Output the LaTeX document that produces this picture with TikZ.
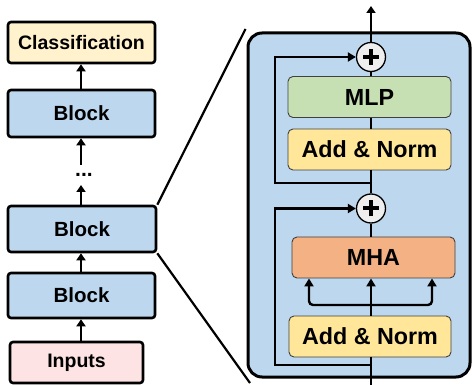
\documentclass[tikz,border=0pt]{standalone}
\usepackage{fontspec}
\setmainfont{Liberation Sans}
\usetikzlibrary{arrows.meta}
\definecolor{bblue}{HTML}{BDD7EE}
\definecolor{cyell}{HTML}{FFF2CC}
\definecolor{ipink}{HTML}{FDE3E3}
\definecolor{mgreen}{HTML}{C6E0B4}
\definecolor{ayell}{HTML}{FFE699}
\definecolor{morange}{HTML}{F4B183}
\definecolor{cgray}{HTML}{EEEEEE}
\tikzset{
  outerbox/.style={draw=black, line width=2.6pt, rounded corners=3pt, inner sep=0pt,
    font=\fontsize{19.5}{22}\selectfont\bfseries},
  blockfont/.style={font=\fontsize{20.5}{23}\selectfont\bfseries},
  innerbox/.style={draw=black!75, line width=0.9pt, rounded corners=5pt, inner sep=0pt,
    minimum width=163pt, minimum height=41pt, font=\fontsize{23.3}{26}\selectfont\bfseries},
  plusnode/.style={circle, draw=black, line width=1.3pt, fill=cgray, minimum size=29pt, inner sep=0pt},
  arr/.style={line width=2.6pt, -{Triangle[length=7pt,width=9pt]}},
  iline/.style={line width=2.4pt},
  iarr/.style={line width=2.4pt, -{Triangle[length=8pt,width=9pt]}},
}
\begin{document}
\begin{tikzpicture}[x=1pt,y=-1pt]
\useasboundingbox (0,0) rectangle (472,385);
% left column
\node[outerbox, fill=cyell, minimum width=147pt, minimum height=41pt] (cls) at (81.5,42.5) {Classification};
\node[outerbox, blockfont, fill=bblue, minimum width=147pt, minimum height=47pt] (b1) at (81.5,113.5) {Block};
\node[font=\fontsize{21}{22}\selectfont\bfseries, inner sep=0pt] (dots) at (84,174.5) {...};
\node[outerbox, blockfont, fill=bblue, minimum width=148pt, minimum height=46pt] (b2) at (82,229) {Block};
\node[outerbox, blockfont, fill=bblue, minimum width=147pt, minimum height=45pt] (b3) at (81.5,295.5) {Block};
\node[outerbox, fill=ipink, minimum width=133pt, minimum height=41pt] (inp) at (76.5,362.5) {Inputs};
\coordinate (d1) at (81,165);
\coordinate (d2) at (81,185);
\draw[arr] (inp.north -| 81,0) -- (b3.south -| 81,0);
\draw[arr] (b3.north -| 81,0) -- (b2.south -| 81,0);
\draw[arr] (b2.north -| 81,0) -- (d2);
\draw[arr] (d1) -- (b1.south -| 81,0);
\draw[arr] (b1.north -| 81,0) -- (cls.south -| 81,0);
% zoom lines
\coordinate (zt) at (245.5,29);
\coordinate (zb) at (250,383);
\draw[line width=2.2pt] (b2.north east) -- (zt);
\draw[line width=2.2pt] (b2.south east) -- (zb);
% big box
\node[draw=black, line width=3pt, fill=bblue, rounded corners=14pt, minimum width=222pt, minimum height=344pt, inner sep=0pt] (big) at (359,205) {};
% inner elements
\node[plusnode] (p2) at (371,57) {};
\node[innerbox, fill=mgreen] (mlp) at (369.5,97) {MLP};
\node[innerbox, fill=ayell] (an2) at (369.5,149.5) {Add \& Norm};
\node[plusnode] (p1) at (371,208.5) {};
\node[innerbox, fill=morange] (mha) at (373.5,257.5) {MHA};
\node[innerbox, fill=ayell, minimum width=162pt] (an1) at (370,336.5) {Add \& Norm};
\foreach \p in {p1,p2}{
  \draw[line width=4pt] ([xshift=-8pt]\p.center) -- ([xshift=8pt]\p.center);
  \draw[line width=4pt] ([yshift=-8pt]\p.center) -- ([yshift=8pt]\p.center);
}
\coordinate (in) at (371,385);
\coordinate (out) at (371,6);
\coordinate (s1) at (371,365);
\coordinate (s2) at (371,183);
\coordinate (br) at (371,305);
% main path
\draw[line width=1.5pt] (in) -- (an1.south -| in);
\draw[iline] (an1.north -| in) -- (br);
\draw[iarr] (br) -- (mha.south -| in);
\draw[iarr, rounded corners=4pt] (br) -| (mha.south -| 309,0);
\draw[iarr, rounded corners=4pt] (br) -| (mha.south -| 432,0);
\draw[iline] (mha.north -| in) -- (p1.south);
\draw[iline] (p1.north) -- (an2.south -| in);
\draw[iline] (an2.north -| in) -- (mlp.south -| in);
\draw[iline] (mlp.north -| in) -- (p2.south);
\draw[arr] (p2.north) -- (out);
% skips
\draw[iline] (s1) -- (an1.south -| in);
\draw[iarr] (s1) -- (275,365) -- (275,208.5) -- (p1.west);
\draw[iarr] (s2) -- (275,183) -- (275,57) -- (p2.west);
\end{tikzpicture}
\end{document}
